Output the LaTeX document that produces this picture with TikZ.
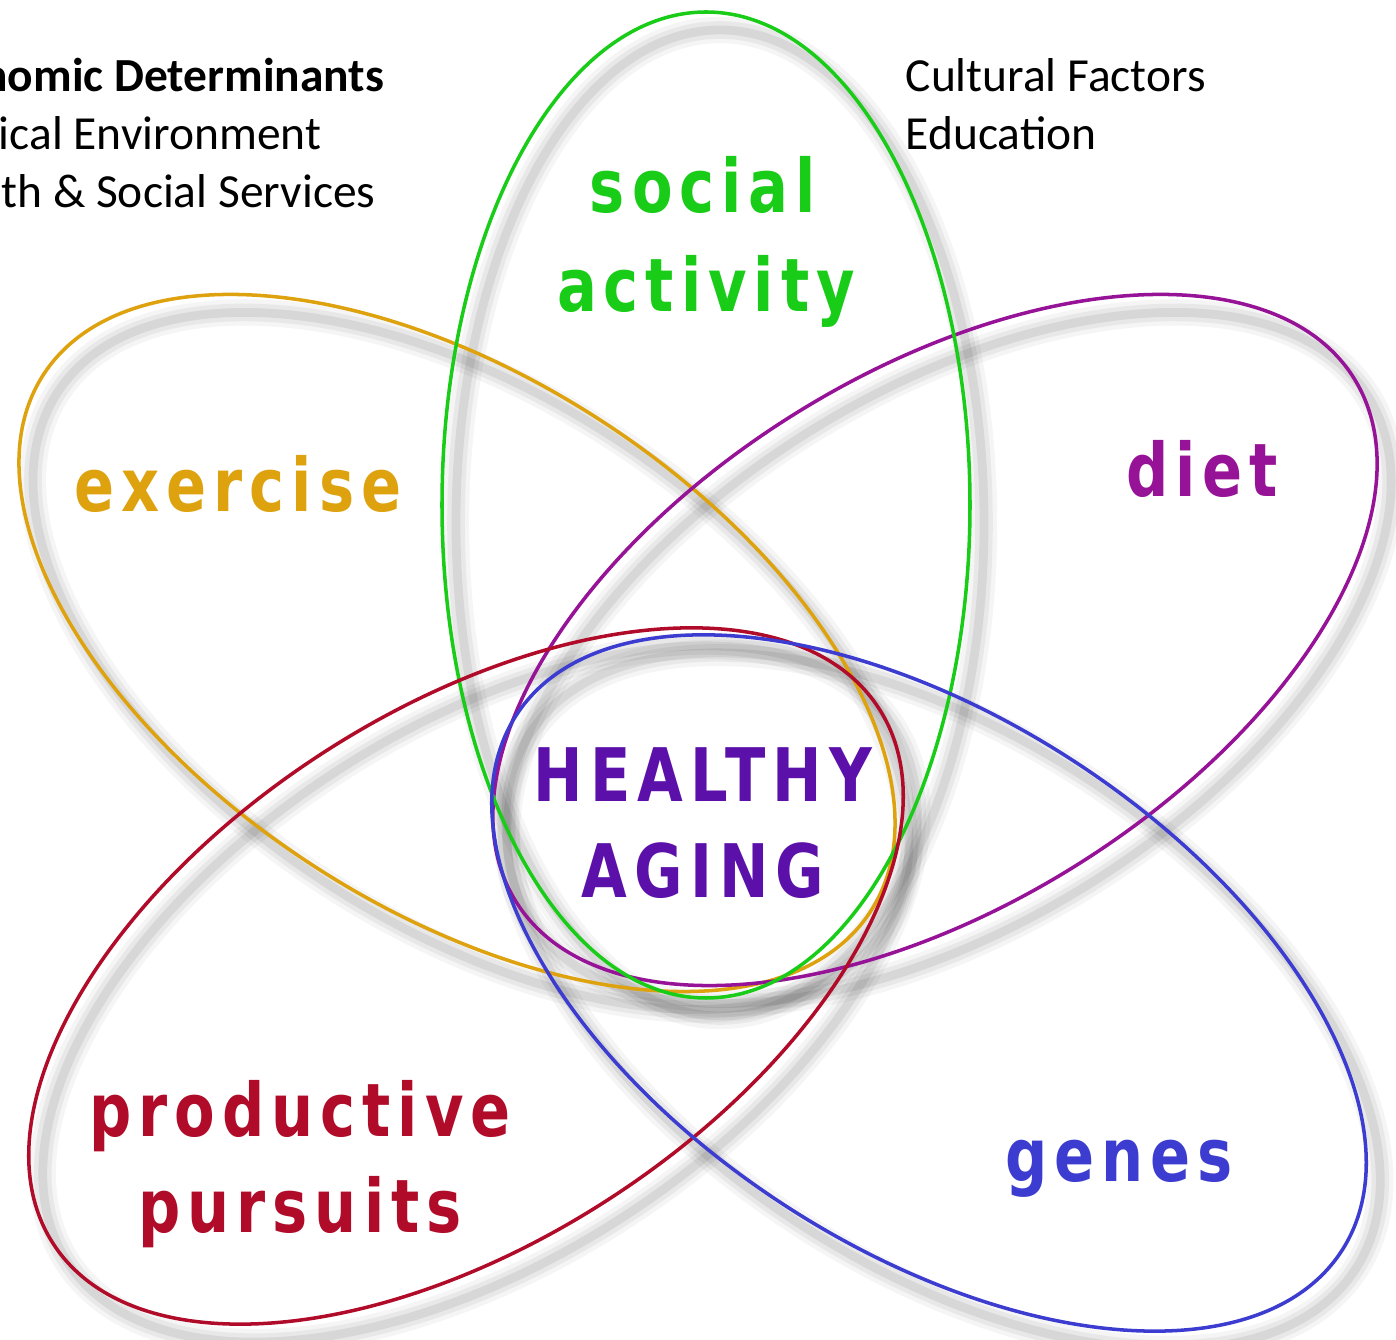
\documentclass[tikz,border=0pt]{standalone}
\usepackage{fontspec}
\setmainfont{Carlito}
\newfontfamily\petalfont[FakeStretch=0.8,LetterSpace=9.5]{DejaVu Sans}
\definecolor{greenha}{RGB}{24,204,24}
\definecolor{goldha}{RGB}{221,162,14}
\definecolor{plumha}{RGB}{150,18,150}
\definecolor{redha}{RGB}{176,12,42}
\definecolor{blueha}{RGB}{60,60,208}
\definecolor{violetha}{RGB}{92,16,170}

\tikzset{
  petal/.style={anchor=base, inner sep=0pt, font=\petalfont\bfseries\fontsize{21}{25}\selectfont},
  side/.style={anchor=base west, inner sep=0pt, font=\fontsize{13.5}{16.5}\selectfont}
}

\begin{document}
\begin{tikzpicture}[x=0.01cm, y=-0.01cm]
  \useasboundingbox (0,0) rectangle (1396,1340);
  \clip (0,0) rectangle (1396,1340);
  \fill[white] (0,0) rectangle (1396,1340);

  % soft grey shadow under every ring
  \foreach \cx/\cy/\ang/\rx/\ry in {
      706/505/0/264/493, 457/643/-33/493/265, 935/640/32/494/266,
      466/976/33/492/265, 929/983/-33/492/265}
  {
    \foreach \w/\op in {7.5pt/0.04, 5pt/0.05, 2.5pt/0.07}
      \draw[black, opacity=\op, line width=\w, rotate around={\ang:(\cx+14,\cy+18)}]
        (\cx+14,\cy+18) ellipse [x radius=\rx, y radius=\ry];
  }

  % the five rings
  \foreach \cx/\cy/\ang/\rx/\ry/\clr in {
      457/643/-33/493/265/goldha, 935/640/32/494/266/plumha,
      706/505/0/264/493/greenha, 466/976/33/492/265/redha,
      929/983/-33/492/265/blueha}
  {
    \draw[\clr, line width=1pt, rotate around={\ang:(\cx,\cy)}]
      (\cx,\cy) ellipse [x radius=\rx, y radius=\ry];
  }

  % ring labels
  \foreach \nm/\x/\y/\txt/\clr in {
      social/703/213/social/greenha, activity/706/312/activity/greenha,
      exercise/238/512/exercise/goldha, diet/1202/497/diet/plumha,
      productive/300/1137/productive/redha, pursuits/300/1233/pursuits/redha,
      genes/1119/1182/genes/blueha,
      healthy/703/802/HEALTHY/violetha, aging/703/898/AGING/violetha}
  {
    \node[petal, text=\clr] (\nm) at (\x,\y) {\txt};
  }

  % determinants in the corners
  \node[side, font=\bfseries\fontsize{13.5}{16.5}\selectfont] (econ) at (-86,92) {Economic Determinants};
  \node[side] (physenv) at (-90,150) {Physical Environment};
  \node[side] (services) at (-86,208) {Health \& Social Services};
  \node[side] (cultural) at (905,92) {Cultural Factors};
  \node[side] (education) at (905,150) {Education};
\end{tikzpicture}
\end{document}
